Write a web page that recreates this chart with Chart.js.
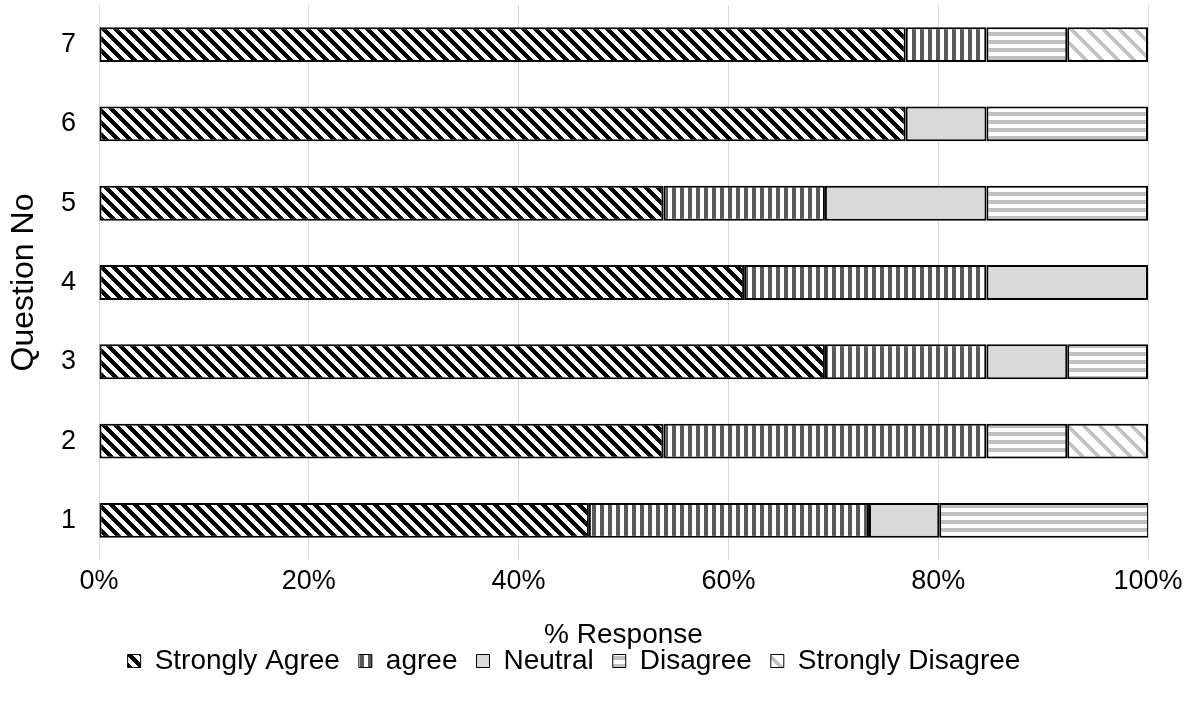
<!DOCTYPE html>
<html>
<head>
<meta charset="utf-8">
<script src="https://cdn.jsdelivr.net/npm/chart.js@4.4.1/dist/chart.umd.min.js"></script>
<style>
  html, body { margin: 0; padding: 0; background: #fff; }
  #wrap { width: 1192px; height: 701px; position: relative; }
</style>
</head>
<body>
<div id="wrap"><canvas id="chart"></canvas></div>
<script>
// --- DATA (% of responses per question) ---
const questions = ['1', '2', '3', '4', '5', '6', '7'];
const seriesNames = ['Strongly Agree', 'agree', 'Neutral', 'Disagree', 'Strongly Disagree'];
const stronglyAgree = [46.7, 53.8, 69.2, 61.5, 53.8, 76.9, 76.9];
const agree = [26.7, 30.8, 15.4, 23.1, 15.4, 0, 7.7];
const neutral = [6.7, 0, 7.7, 15.4, 15.4, 7.7, 0];
const disagree = [20, 7.7, 7.7, 0, 15.4, 15.4, 7.7];
const stronglyDisagree = [0, 7.7, 0, 0, 0, 0, 7.7];
const xTicks = [0, 20, 40, 60, 80, 100];

const FONT = "'Liberation Sans', Arial, sans-serif";
const canvas = document.getElementById('chart');
const ctx = canvas.getContext('2d');

// build a small tiled pattern, pixel by pixel
function makePattern(size, color, isInk) {
    const tile = document.createElement('canvas');
    tile.width = size;
    tile.height = size;
    const g = tile.getContext('2d');
    g.fillStyle = '#ffffff';
    g.fillRect(0, 0, size, size);
    g.fillStyle = color;
    for (let y = 0; y < size; y++) {
        for (let x = 0; x < size; x++) {
            if (isInk(x, y)) g.fillRect(x, y, 1, 1);
        }
    }
    return ctx.createPattern(tile, 'repeat');
}

const fills = [
    makePattern(12, '#000000', (x, y) => ((x - y + 24) % 12) < 6),   // wide downward diagonal
    makePattern(8, '#595959', (x, y) => (x % 8) < 4),                // vertical
    '#d9d9d9',                                                       // solid
    makePattern(8, '#bfbfbf', (x, y) => (y % 8) < 4),                // horizontal
    makePattern(16, '#c0c0c0', (x, y) => ((x - y + 32) % 16) < 5)    // light diagonal
];

const seriesValues = [stronglyAgree, agree, neutral, disagree, stronglyDisagree];

const datasets = seriesNames.map((name, i) => ({
    label: name,
    data: seriesValues[i],
    backgroundColor: fills[i],
    borderColor: '#000000',
    borderWidth: 2,
    borderSkipped: false,
    barPercentage: 0.44,
    categoryPercentage: 1.0
}));

new Chart(ctx, {
    type: 'bar',
    data: { labels: questions, datasets: datasets },
    options: {
        indexAxis: 'y',
        responsive: true,
        maintainAspectRatio: false,
        animation: false,
        layout: { padding: { left: 0, right: 44, top: 5, bottom: 16 } },
        scales: {
            x: {
                stacked: true,
                min: 0,
                max: 100,
                afterBuildTicks: (scale) => { scale.ticks = xTicks.map(v => ({ value: v })); },
                ticks: {
                    color: '#000',
                    font: { family: FONT, size: 27 },
                    padding: 5,
                    callback: (v) => v + '%'
                },
                grid: { color: '#d9d9d9', lineWidth: 1, drawTicks: false },
                border: { display: false },
                title: {
                    display: true,
                    text: '% Response',
                    color: '#000',
                    font: { family: FONT, size: 28 },
                    padding: { top: 16, bottom: -24 }
                }
            },
            y: {
                stacked: true,
                reverse: true,
                ticks: {
                    color: '#000',
                    font: { family: FONT, size: 27 },
                    padding: 15
                },
                grid: { display: false },
                border: { display: false },
                title: {
                    display: true,
                    text: 'Question No',
                    color: '#000',
                    font: { family: FONT, size: 32 },
                    padding: { top: 5, bottom: 0 }
                },
                afterFit: (scale) => {
                    scale.width = 99;
                    scale.paddingTop = 0;
                    scale.paddingBottom = 0;
                }
            }
        },
        plugins: {
            legend: {
                position: 'bottom',
                labels: {
                    color: '#000',
                    font: { family: FONT, size: 28 },
                    boxWidth: 13,
                    boxHeight: 13,
                    padding: 19,
                    generateLabels: (chart) => {
                        const items = Chart.defaults.plugins.legend.labels.generateLabels(chart);
                        items.forEach(it => { it.lineWidth = 1; });
                        return items;
                    }
                }
            },
            tooltip: { enabled: false }
        }
    }
});
</script>
</body>
</html>
